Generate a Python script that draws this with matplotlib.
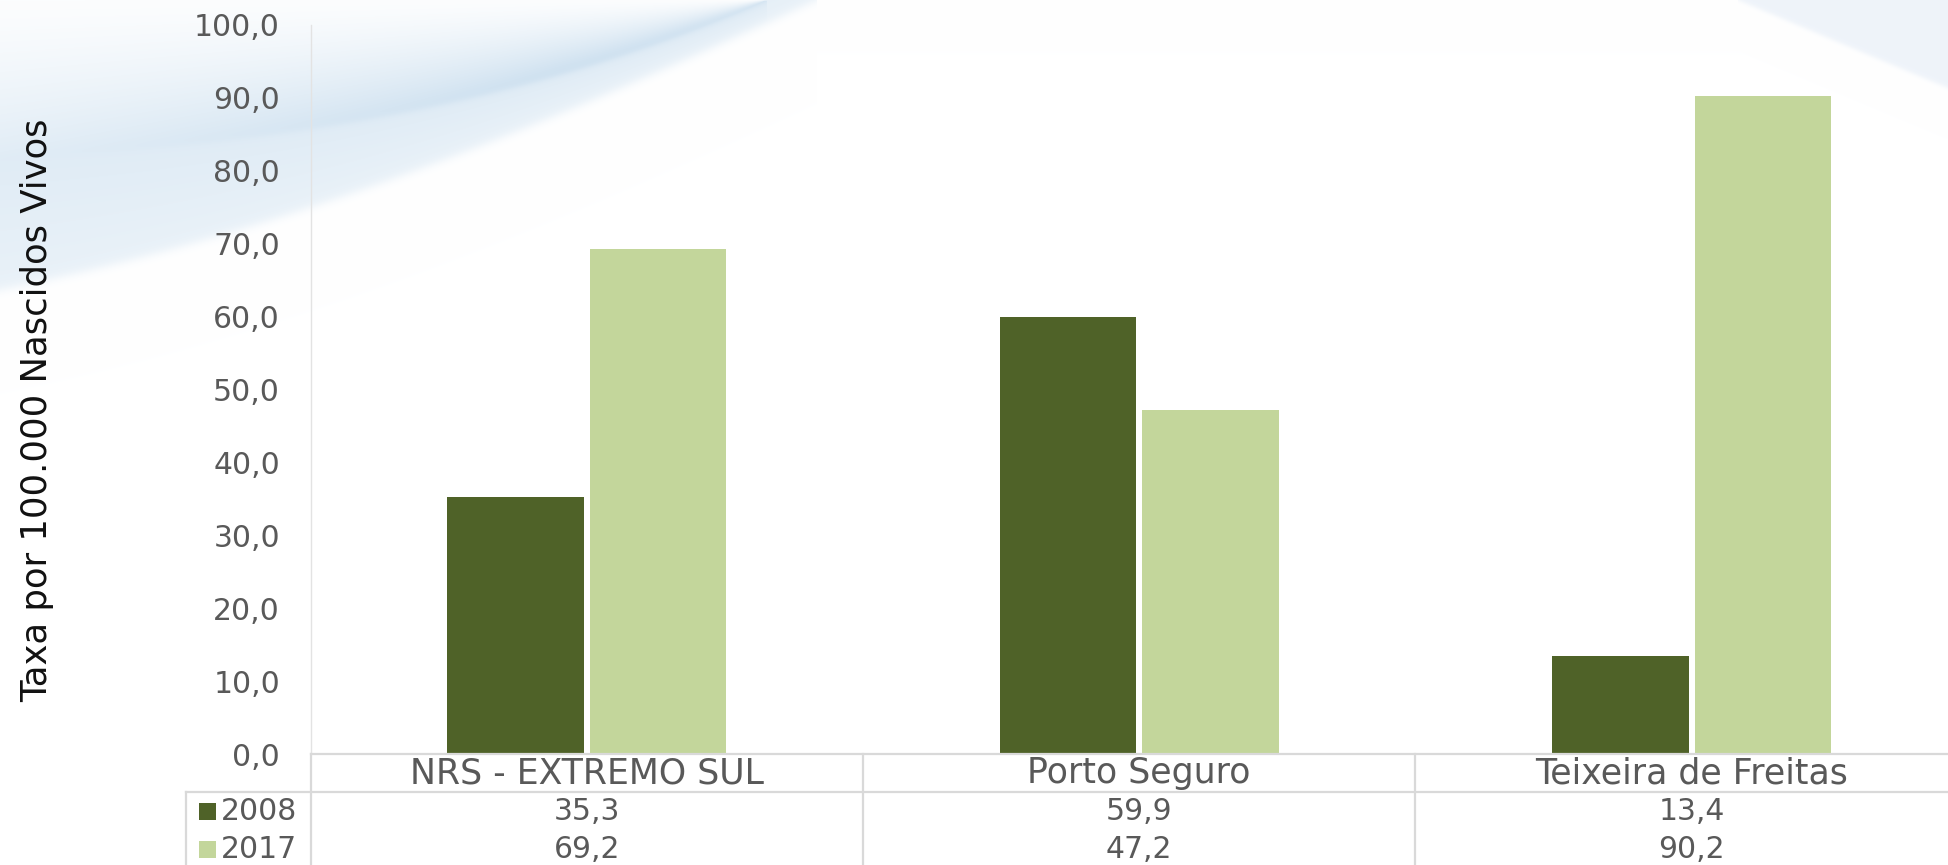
import numpy as np
import matplotlib
matplotlib.use('Agg')
import matplotlib.pyplot as plt
from matplotlib.patches import Rectangle
from matplotlib.transforms import blended_transform_factory

categories = ['NRS - EXTREMO SUL', 'Porto Seguro', 'Teixeira de Freitas']
series = ['2008', '2017']
v2008 = [35.3, 59.9, 13.4]
v2017 = [69.2, 47.2, 90.2]
yticks = [0, 10, 20, 30, 40, 50, 60, 70, 80, 90, 100]

W, H = 1948, 865
colors = ['#4f6228', '#c3d69b']
grey = '#d9d9d9'
txt = '#595959'
plt.rcParams['font.family'] = ['DejaVu Sans']

fig = plt.figure(figsize=(W / 100, H / 100), dpi=100)
bg = fig.add_axes([0, 0, 1, 1], zorder=0)
bg.set_xlim(0, W); bg.set_ylim(H, 0); bg.axis('off')


def bez_y(p0, p1, p2, p3, xs):
    t = np.linspace(0, 1, 400)[:, None]
    pts = ((1 - t) ** 3 * np.array(p0) + 3 * (1 - t) ** 2 * t * np.array(p1)
           + 3 * (1 - t) * t ** 2 * np.array(p2) + t ** 3 * np.array(p3))
    return np.interp(xs, pts[:, 0], pts[:, 1], right=-50)


def sig(z):
    return 1 / (1 + np.exp(-np.clip(z, -50, 50)))


# background swoosh (decoration), built as an image
xs = np.arange(W) + 0.5
ys = (np.arange(H) + 0.5)[:, None]
e1 = bez_y((0, 157), (320, 145), (560, 90), (767, 0), xs)[None, :]
e2 = bez_y((0, 290), (300, 230), (560, 120), (817, 0), xs)[None, :]
inA = sig((e1 - ys) / 2.0)
inB = np.clip(sig((e2 - ys) / 3.0) - inA, 0, 1)
ramp = np.clip(xs / 560, 0, 1)[None, :]
fa = 0.06 + (0.5 + 0.42 * ramp) * np.clip(ys / np.maximum(e1, 1), 0, 1) ** 1.3
s = np.clip((ys - e1) / np.maximum(e2 - e1, 1), 0, 1)
fb = 0.58 * (1 - 0.3 * s)
f = inA * fa + inB * fb
blue = np.array([0.79, 0.87, 0.935])
img = np.ones((H, W, 3))
for k in range(3):
    img[..., k] = 1 - f * (1 - blue[k])
e3 = bez_y((1738, 0), (1800, 26), (1880, 60), (1948, 88), xs)[None, :]
fc = sig((e3 - ys) / 1.5) * (xs[None, :] > 1738)
tr_blue = np.array([0.935, 0.955, 0.98])
for k in range(3):
    img[..., k] = img[..., k] - fc * (1 - tr_blue[k])
bg.imshow(np.clip(img, 0, 1), extent=(0, W, H, 0), aspect='auto', zorder=0,
          interpolation='nearest')

# main axes, extends past the right edge like the reference
x0, y0, y100, cw = 310.6, 754, 24.8, 552.4
ax = fig.add_axes([x0 / W, 1 - y0 / H, 3 * cw / W, (y0 - y100) / H], zorder=1)
ax.patch.set_alpha(0)
x = np.arange(len(categories))
bw, off = 0.247, 0.129
ax.bar(x - off, v2008, bw, color=colors[0], zorder=2)
ax.bar(x + off, v2017, bw, color=colors[1], zorder=2)
ax.set_xlim(-0.5, 2.5)
ax.set_ylim(0, 100)
ax.set_yticks(yticks)
ax.set_yticklabels([f'{v:.1f}'.replace('.', ',') for v in yticks], fontsize=21.5, color=txt)
ax.tick_params(axis='y', length=0, pad=22)
ax.set_xticks([])
for sp in ['top', 'right']:
    ax.spines[sp].set_visible(False)
ax.spines['left'].set_color('#e3e3e3'); ax.spines['left'].set_linewidth(1)
ax.spines['bottom'].set_color(grey); ax.spines['bottom'].set_linewidth(1.6)
fig.text(37 / W, 1 - 410 / H, 'Taxa por 100.000 Nascidos Vivos', rotation=90,
         ha='center', va='center', fontsize=25.5, color='#111111')

# data table below the axis
tr = blended_transform_factory(ax.transData, bg.transData)
rows = [773, 811, 849]
bg.plot([186, W], [792, 792], color=grey, lw=1.6)
bg.plot([186, 186], [792, H], color=grey, lw=1.6)
bg.plot([x0, x0], [y0, H], color=grey, lw=1.6)
for b in [0.5, 1.5]:
    bg.plot([b, b], [y0, H], color=grey, lw=1.6, transform=tr)
for i, c in enumerate(categories):
    bg.text(i, rows[0], c, ha='center', va='center', fontsize=25, color=txt, transform=tr)
    bg.text(i, rows[1], f'{v2008[i]:.1f}'.replace('.', ','), ha='center', va='center',
            fontsize=21.5, color=txt, transform=tr)
    bg.text(i, rows[2], f'{v2017[i]:.1f}'.replace('.', ','), ha='center', va='center',
            fontsize=21.5, color=txt, transform=tr)
for k, sname in enumerate(series):
    bg.add_patch(Rectangle((199, rows[k + 1] - 8), 17, 17, color=colors[k], lw=0))
    bg.text(221, rows[k + 1], sname, ha='left', va='center', fontsize=21.5, color=txt)

fig.savefig('out.png', dpi=100)
